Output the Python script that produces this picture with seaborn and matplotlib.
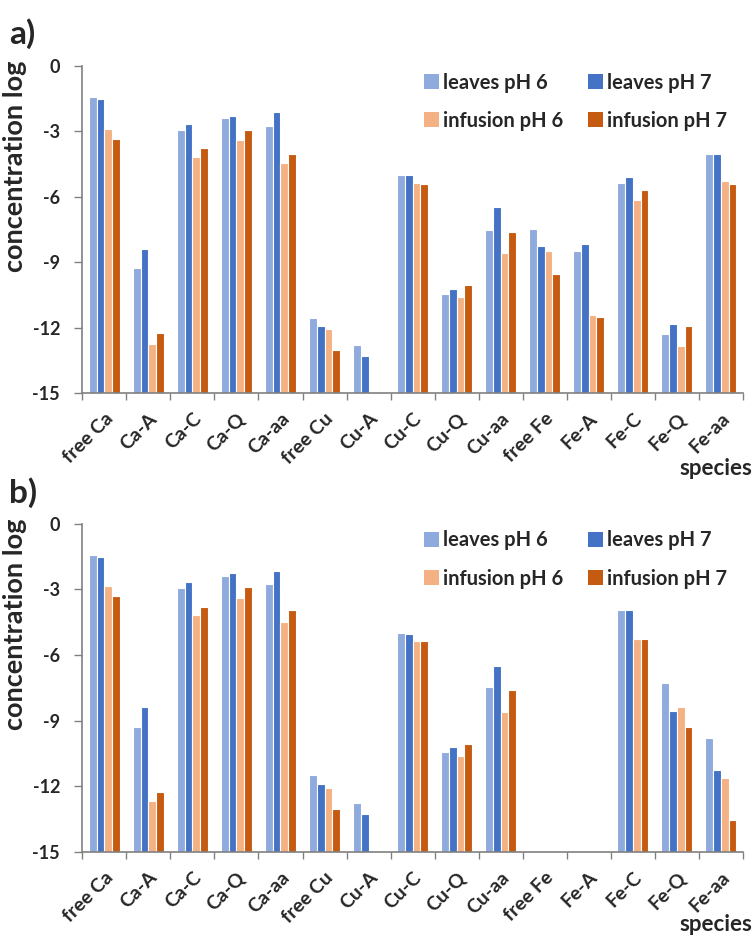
import numpy as np
import pandas as pd
import seaborn as sns
from matplotlib import pyplot as plt
from matplotlib.patches import Patch
from matplotlib.ticker import FixedLocator

species = ["free Ca", "Ca-A", "Ca-C", "Ca-Q", "Ca-aa", "free Cu", "Cu-A", "Cu-C",
           "Cu-Q", "Cu-aa", "free Fe", "Fe-A", "Fe-C", "Fe-Q", "Fe-aa"]
series = ["leaves pH 6", "leaves pH 7", "infusion pH 6", "infusion pH 7"]
colors = ["#8FAADC", "#4472C4", "#F4B183", "#C55A11"]
nan = np.nan

# panel a) log concentration per species
a_leaves_ph6 = [-1.42, -9.29, -2.94, -2.39, -2.79, -11.54, -12.79, -5.03, -10.48, -7.54, -7.48, -8.48, -5.38, -12.29, -4.04]
a_leaves_ph7 = [-1.52, -8.38, -2.66, -2.33, -2.15, -11.92, -13.29, -5.03, -10.23, -6.50, -8.27, -8.19, -5.09, -11.83, -4.04]
a_infusion_ph6 = [-2.89, -12.75, -4.19, -3.40, -4.46, -12.08, nan, -5.38, -10.58, -8.60, -8.48, -11.44, -6.17, -12.84, -5.31]
a_infusion_ph7 = [-3.38, -12.23, -3.78, -2.94, -4.04, -13.02, nan, -5.44, -10.07, -7.63, -9.56, -11.53, -5.71, -11.92, -5.42]

# panel b)
b_leaves_ph6 = [-1.42, -9.29, -2.95, -2.39, -2.74, -11.50, -12.76, -5.01, -10.42, -7.46, -14.93, nan, -3.96, -7.29, -9.81]
b_leaves_ph7 = [-1.55, -8.40, -2.66, -2.27, -2.16, -11.91, -13.25, -5.04, -10.20, -6.50, nan, nan, -3.96, -8.54, -11.27]
b_infusion_ph6 = [-2.86, -12.68, -4.20, -3.41, -4.48, -12.06, nan, -5.38, -10.60, -8.59, nan, nan, -5.27, -8.39, -11.60]
b_infusion_ph7 = [-3.32, -12.24, -3.81, -2.89, -3.96, -13.02, nan, -5.38, -10.08, -7.58, nan, nan, -5.27, -9.29, -13.52]

BASE = -15
yticks = [0, -3, -6, -9, -12, -15]


def make_df(cols):
    rows = []
    for name, vals in zip(series, cols):
        for sp, v in zip(species, vals):
            rows.append({"species": sp, "series": name, "value": v})
    df = pd.DataFrame(rows)
    df["height"] = df["value"] - BASE
    return df


sns.set_style("white")
plt.rcParams["font.family"] = ["Lato", "DejaVu Sans"]
plt.rcParams["font.weight"] = "bold"

fig = plt.figure(figsize=(7.55, 9.36), dpi=100)
ax_a = fig.add_axes([0.109, 0.580, 0.875, 0.350])
ax_b = fig.add_axes([0.109, 0.0897, 0.875, 0.351])

panels = [
    (ax_a, [a_leaves_ph6, a_leaves_ph7, a_infusion_ph6, a_infusion_ph7], "a)", 0.981, -0.25),
    (ax_b, [b_leaves_ph6, b_leaves_ph7, b_infusion_ph6, b_infusion_ph7], "b)", 0.490, -0.24),
]

for ax, cols, tag, ty, sy in panels:
    df = make_df(cols)
    sns.barplot(data=df, x="species", y="height", hue="series", order=species,
                hue_order=series, palette=colors, errorbar=None, width=0.7,
                bottom=BASE, edgecolor="white", linewidth=0.8, saturation=1,
                legend=False, ax=ax)
    ax.set_ylim(BASE, 0)
    ax.set_xlim(-0.5, len(species) - 0.5)
    ax.set_yticks(yticks)
    ax.set_yticklabels([str(t) for t in yticks], fontsize=13, fontweight="bold")
    ax.set_xticks(range(len(species)))
    ax.set_xticklabels(species, rotation=45, ha="right", rotation_mode="anchor",
                       fontsize=14, fontweight="bold")
    ax.xaxis.set_minor_locator(FixedLocator(np.arange(-0.5, len(species), 1.0)))
    ax.tick_params(axis="x", which="major", length=0, pad=12)
    ax.tick_params(axis="x", which="minor", length=5, width=1, color="#808080", direction="out", bottom=True)
    ax.tick_params(axis="y", length=6, width=1, color="#808080", direction="out", left=True, pad=10)
    for s in ["top", "right"]:
        ax.spines[s].set_visible(False)
    for s in ["left", "bottom"]:
        ax.spines[s].set_color("#808080")
        ax.spines[s].set_linewidth(1.2)
    ax.set_ylabel("concentration log", fontsize=19.5, fontweight="bold")
    ax.yaxis.set_label_coords(-0.084, 0.692)
    ax.set_xlabel("species", fontsize=16, fontweight="bold", loc="right")
    ax.xaxis.set_label_coords(1.014, sy)
    ax.xaxis.label.set_va("baseline")
    handles = [Patch(facecolor=c, edgecolor="none") for c in colors]
    order = [0, 2, 1, 3]
    ax.legend([handles[i] for i in order], [series[i] for i in order], ncol=2,
              loc="upper left", bbox_to_anchor=(0.49, 1.034), frameon=False,
              prop={"size": 14.5, "weight": "bold"}, handlelength=0.75,
              handleheight=0.75, handletextpad=0.2, columnspacing=1.2,
              labelspacing=0.9)
    fig.text(0.012, ty, tag, fontsize=24, fontweight="bold", va="top")

fig.savefig("out.png", dpi=100)
